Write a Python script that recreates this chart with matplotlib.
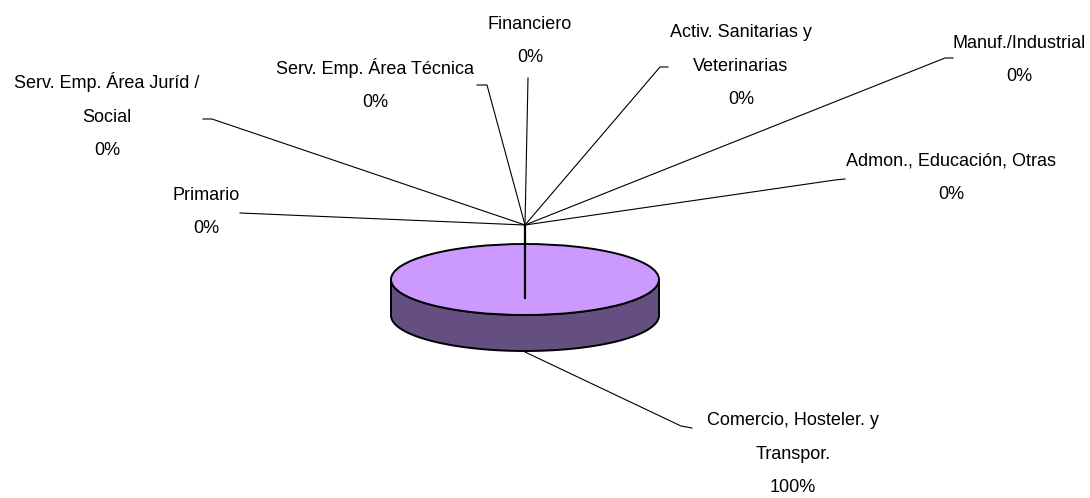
import matplotlib
matplotlib.use("Agg")
import matplotlib.pyplot as plt
import numpy as np

plt.rcParams['font.family'] = ['Liberation Sans', 'DejaVu Sans']

# sectores del grafico
categorias = ["Comercio, Hosteler. y\nTranspor.", "Admon., Educación, Otras", "Manuf./Industrial",
              "Activ. Sanitarias y\nVeterinarias", "Financiero", "Serv. Emp. Área Técnica",
              "Serv. Emp. Área Juríd /\nSocial", "Primario"]
valores = [100, 0, 0, 0, 0, 0, 0, 0]

# sitio de cada etiqueta (centro en pixeles) y su linea guia
pos_etiquetas = [(793, 454), (951, 178), (1019, 60), (741, 66), (530, 41), (375, 84.5), (107, 115.5), (206, 212)]
guias = [[(692, 428), (681, 426), (525, 352)],
         [(845, 179), (835, 180), (525, 225)],
         [(953, 58), (945, 58), (525, 225)],
         [(668, 67), (660, 67), (525, 225)],
         [(528, 78), (525, 225)],
         [(477, 85), (487, 85), (525, 225)],
         [(203, 119), (212, 119), (525, 225)],
         [(240, 213), (525, 225)]]

W, H = 1090, 498
cx, cy, rx, ry, prof = 525, 279.5, 134, 35.5, 36
color_top = "#CC99FF"
color_lado = "#654F80"

fig = plt.figure(figsize=(W / 100, H / 100), dpi=100)
ax = fig.add_axes([0, 0, 1, 1])
ax.set_xlim(0, W)
ax.set_ylim(H, 0)
ax.axis("off")

# pared lateral de la tarta
t = np.linspace(0, np.pi, 200)
xs = cx + rx * np.cos(t)
ys = cy + ry * np.sin(t)
ax.fill(np.r_[xs, xs[::-1]], np.r_[ys, ys[::-1] + prof], fc=color_lado, ec="black", lw=1.4, zorder=2)

# tapa, con los propios valores
ax2 = fig.add_axes([(cx - rx) / W, 1 - (cy + ry) / H, 2 * rx / W, 2 * ry / H])
ax2.pie(valores, startangle=90, counterclock=False, radius=1, colors=[color_top] * len(valores),
        wedgeprops=dict(edgecolor="black", linewidth=1.4, clip_on=False))
ax2.set_aspect("auto")
ax2.set_xlim(-1, 1)
ax2.set_ylim(-1, 1)
ax2.patch.set_visible(False)

for guia in guias:
    g = np.array(guia)
    ax.plot(g[:, 0], g[:, 1], color="black", lw=0.8, zorder=1, solid_joinstyle="miter")

# los sectores a cero quedan como una raya gruesa
ax3 = fig.add_axes([0, 0, 1, 1])
ax3.set_xlim(0, W)
ax3.set_ylim(H, 0)
ax3.axis("off")
ax3.plot([525, 525], [225, 299], color="black", lw=1.6, solid_capstyle="butt")

total = sum(valores)
for cat, val, (x, y) in zip(categorias, valores, pos_etiquetas):
    ax3.text(x, y, "%s\n%d%%" % (cat, round(100 * val / total)), ha="center", va="center",
             fontsize=13, linespacing=2.25, color="black")

fig.savefig("out.png", dpi=100)
